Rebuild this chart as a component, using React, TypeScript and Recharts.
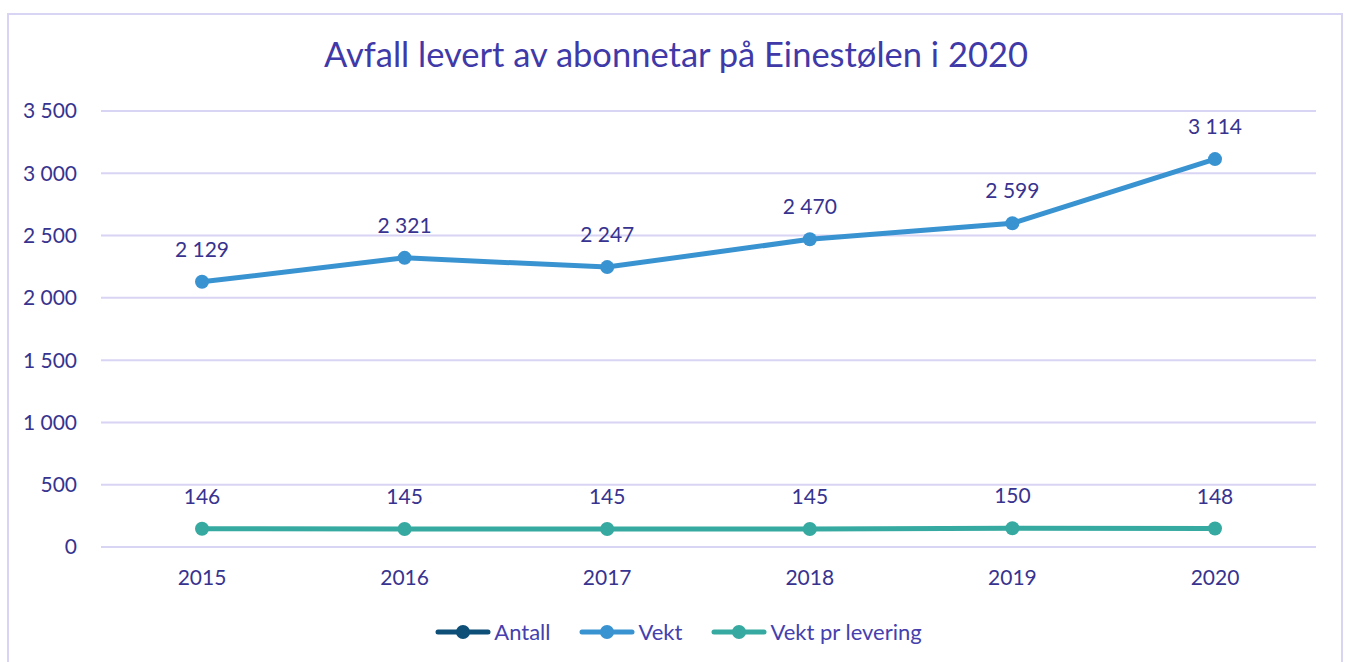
import { LineChart, Line, XAxis, YAxis, CartesianGrid, LabelList } from 'recharts'

const years = ['2015', '2016', '2017', '2018', '2019', '2020']
const antall: (number | null)[] = [null, null, null, null, null, null]
const vekt = [2129, 2321, 2247, 2470, 2599, 3114]
const vektPrLevering = [146, 145, 145, 145, 150, 148]
const yTicks = [0, 500, 1000, 1500, 2000, 2500, 3000, 3500]

const data = years.map((year, i) => ({
  year,
  antall: antall[i],
  vekt: vekt[i],
  vektPrLevering: vektPrLevering[i],
}))

const FONT = 'Lato, "Open Sans", sans-serif'
const TEXT = '#37338f'
const GRID = '#d8d4f3'

const SERIES = [
  { key: 'antall', name: 'Antall', color: '#0d4f77' },
  { key: 'vekt', name: 'Vekt', color: '#3a93d1' },
  { key: 'vektPrLevering', name: 'Vekt pr levering', color: '#36aaa0' },
]

// norwegian style thousands separator
const fmt = (v: any) => (v == null ? '' : Number(v).toLocaleString('en-US').replace(/,/g, ' '))

function ChartLegend() {
  return (
    <div
      style={{
        position: 'absolute',
        left: 0,
        top: 618,
        width: 1356,
        display: 'flex',
        justifyContent: 'center',
        gap: 28,
        fontFamily: FONT,
        fontSize: 22,
        color: '#4540ad',
      }}
    >
      {SERIES.map((s) => (
        <div key={s.key} style={{ display: 'flex', alignItems: 'center' }}>
          <svg width={58} height={16} style={{ marginRight: 2 }}>
            <line x1={4} y1={8} x2={54} y2={8} stroke={s.color} strokeWidth={5} strokeLinecap="round" />
            <circle cx={29} cy={8} r={7} fill={s.color} />
          </svg>
          <span>{s.name}</span>
        </div>
      ))}
    </div>
  )
}

export default function App() {
  return (
    <div style={{ position: 'absolute', left: 0, top: 0, width: 1348, height: 662, background: '#fff', overflow: 'hidden' }}>
      <div
        style={{
          position: 'absolute',
          left: 7,
          top: 13,
          width: 1336,
          height: 660,
          border: `2px solid ${GRID}`,
          boxSizing: 'border-box',
        }}
      />
      <div
        style={{
          position: 'absolute',
          left: 0,
          top: 33,
          width: 1352,
          textAlign: 'center',
          fontFamily: FONT,
          fontSize: 34.5,
          color: '#3f3aa8',
        }}
      >
        Avfall levert av abonnetar på Einestølen i 2020
      </div>
      <div style={{ position: 'absolute', left: 0, top: 0 }}>
        <LineChart width={1348} height={662} data={data} margin={{ top: 111, right: 32, bottom: 85, left: 11 }}>
          <CartesianGrid vertical={false} stroke={GRID} strokeWidth={2} />
          <XAxis
            dataKey="year"
            height={30}
            padding={{ left: 101, right: 101 }}
            axisLine={{ stroke: GRID, strokeWidth: 2 }}
            tickLine={false}
            tickSize={0}
            tickMargin={23}
            tick={{ fill: TEXT, fontSize: 21, fontFamily: FONT }}
          />
          <YAxis
            width={90}
            domain={[0, 3500]}
            ticks={yTicks}
            allowDataOverflow
            axisLine={false}
            tickLine={false}
            tickSize={0}
            tickMargin={24}
            tickFormatter={fmt}
            tick={{ fill: TEXT, fontSize: 21, fontFamily: FONT }}
          />
          {SERIES.map((s) => (
            <Line
              key={s.key}
              dataKey={s.key}
              name={s.name}
              type="linear"
              stroke={s.color}
              strokeWidth={5}
              dot={{ r: 7, fill: s.color, stroke: 'none' }}
              activeDot={false}
              isAnimationActive={false}
            >
              <LabelList
                dataKey={s.key}
                position="top"
                offset={25}
                formatter={fmt}
                style={{ fill: TEXT, fontSize: 21, fontFamily: FONT }}
              />
            </Line>
          ))}
        </LineChart>
      </div>
      <ChartLegend />
    </div>
  )
}
